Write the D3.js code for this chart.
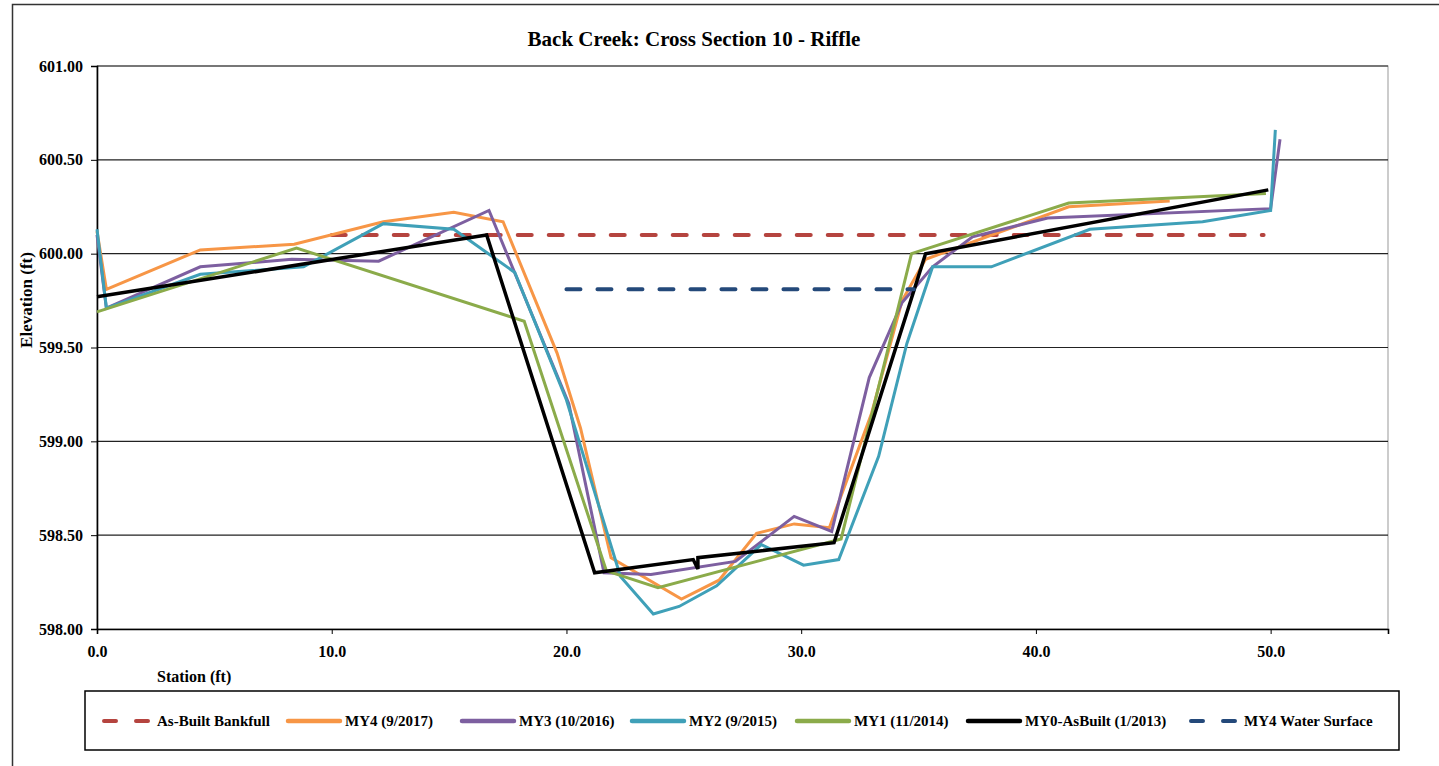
<!DOCTYPE html>
<html>
<head>
<meta charset="utf-8">
<script src="https://cdn.jsdelivr.net/npm/d3@7"></script>
<style>
  body { margin: 0; background: #fff; }
  svg text { font-family: "Liberation Serif", "Tinos", "DejaVu Serif", serif !important; font-weight: bold; }
</style>
</head>
<body>
<script>
// station (ft) / elevation (ft)
const bankfullSt = [10.0, 49.7];
const bankfullEl = [600.10, 600.10];

const my4St = [0.0, 0.4, 4.4, 8.4, 12.2, 15.2, 17.3, 19.6, 20.6, 21.9, 24.9, 26.5, 28.1, 29.7, 31.2, 33.0, 34.3, 35.3, 41.4, 45.7];
const my4El = [600.12, 599.81, 600.02, 600.05, 600.17, 600.22, 600.17, 599.47, 599.07, 598.38, 598.16, 598.26, 598.51, 598.56, 598.54, 599.15, 599.75, 599.97, 600.25, 600.28];

const my3St = [0.0, 0.4, 4.4, 8.3, 12.0, 16.7, 20.1, 21.6, 23.6, 27.2, 29.7, 31.3, 32.9, 34.3, 35.6, 37.3, 40.5, 50.0, 50.4];
const my3El = [600.10, 599.71, 599.93, 599.97, 599.96, 600.23, 599.20, 598.30, 598.29, 598.36, 598.60, 598.52, 599.34, 599.74, 599.93, 600.09, 600.19, 600.24, 600.61];

const my2St = [0.0, 0.4, 4.4, 8.8, 12.2, 15.2, 17.8, 20.0, 22.3, 23.7, 24.8, 26.4, 28.3, 30.1, 31.6, 33.3, 34.5, 35.6, 38.1, 42.3, 47.1, 50.0, 50.2];
const my2El = [600.13, 599.71, 599.89, 599.93, 600.16, 600.13, 599.90, 599.22, 598.28, 598.08, 598.12, 598.23, 598.45, 598.34, 598.37, 598.92, 599.52, 599.93, 599.93, 600.13, 600.17, 600.23, 600.66];

const my1St = [0.0, 8.5, 18.2, 21.7, 23.9, 31.7, 34.7, 41.4, 49.8];
const my1El = [599.69, 600.03, 599.64, 598.31, 598.22, 598.48, 600.00, 600.27, 600.32];

const my0St = [0.0, 16.6, 21.2, 25.4, 25.6, 25.6, 31.4, 35.3, 49.9];
const my0El = [599.77, 600.10, 598.30, 598.37, 598.32, 598.38, 598.46, 600.00, 600.34];

const waterSt = [20.0, 34.8];
const waterEl = [599.81, 599.81];

const seriesNames = ["As-Built Bankfull", "MY4  (9/2017)", "MY3  (10/2016)", "MY2  (9/2015)", "MY1  (11/2014)", "MY0-AsBuilt (1/2013)", "MY4 Water Surface"];
const seriesColors = ["#B5443F", "#F79646", "#7D5FA0", "#3FA0B8", "#8BAB4A", "#000000", "#24497A"];
const xTicks = [0, 10, 20, 30, 40, 50];
const yTicks = [598.0, 598.5, 599.0, 599.5, 600.0, 600.5, 601.0];

const series = [
  { st: bankfullSt, el: bankfullEl, dash: true, w: 4 },
  { st: my4St, el: my4El, dash: false, w: 3 },
  { st: my3St, el: my3El, dash: false, w: 3 },
  { st: my2St, el: my2El, dash: false, w: 3 },
  { st: my1St, el: my1El, dash: false, w: 3 },
  { st: my0St, el: my0El, dash: false, w: 3.5 },
  { st: waterSt, el: waterEl, dash: true, w: 4 }
];

const width = 1439, height = 766;
const plot = { left: 97, right: 1388, top: 66, bottom: 629 };
const serif = "'Liberation Serif', Tinos, 'DejaVu Serif', serif";

const svg = d3.select("body").append("svg")
  .attr("width", width)
  .attr("height", height)
  .attr("font-family", serif);

svg.append("rect").attr("width", width).attr("height", height).attr("fill", "#fff");

// outer chart border
svg.append("rect")
  .attr("x", 12.5).attr("y", 4.5)
  .attr("width", width + 20).attr("height", height + 20)
  .attr("fill", "none").attr("stroke", "#333").attr("stroke-width", 1.5);

const x = d3.scaleLinear().domain([0, 55]).range([plot.left, plot.right]);
const y = d3.scaleLinear().domain([598, 601]).range([plot.bottom, plot.top]);

// plot area frame
svg.append("rect")
  .attr("x", plot.left).attr("y", plot.top)
  .attr("width", plot.right - plot.left).attr("height", plot.bottom - plot.top)
  .attr("fill", "none").attr("stroke", "#999").attr("stroke-width", 1);

// horizontal gridlines
svg.append("g")
  .selectAll("line")
  .data(yTicks.filter(d => d > 598))
  .enter()
  .append("line")
  .attr("x1", plot.left).attr("x2", plot.right)
  .attr("y1", d => y(d)).attr("y2", d => y(d))
  .attr("stroke", "#222").attr("stroke-width", 1.2);

const xAxis = svg.append("g")
  .attr("transform", "translate(0," + plot.bottom + ")")
  .call(d3.axisBottom(x).tickValues(xTicks).tickFormat(d3.format(".1f")).tickSize(5).tickPadding(12))
  .attr("font-family", serif);
xAxis.select(".domain").attr("stroke", "#000").attr("stroke-width", 1.6);
xAxis.selectAll("text").style("font-size", "16px").style("font-family", serif).attr("fill", "#000");

const yAxis = svg.append("g")
  .attr("transform", "translate(" + plot.left + ",0)")
  .call(d3.axisLeft(y).tickValues(yTicks).tickFormat(d3.format(".2f")).tickSize(6).tickPadding(8))
  .attr("font-family", serif);
yAxis.select(".domain").attr("stroke", "#000").attr("stroke-width", 1.6);
yAxis.selectAll("text").style("font-size", "16px").style("font-family", serif).attr("fill", "#000");

const line = d3.line()
  .x(d => x(d[0]))
  .y(d => y(d[1]));

series.forEach((s, i) => {
  svg.append("path")
    .datum(s.st.map((v, j) => [v, s.el[j]]))
    .attr("d", line)
    .attr("fill", "none")
    .attr("stroke", seriesColors[i])
    .attr("stroke-width", s.w)
    .attr("stroke-linejoin", "miter")
    .attr("stroke-linecap", s.dash ? "round" : "butt")
    .attr("stroke-dasharray", s.dash ? "14,17" : null);
});

svg.append("text")
  .attr("x", 694).attr("y", 46)
  .attr("text-anchor", "middle")
  .style("font-size", "21px")
  .style("font-family", serif)
  .text("Back Creek: Cross Section 10 - Riffle");

svg.append("text")
  .attr("transform", "translate(32,300) rotate(-90)")
  .attr("text-anchor", "middle")
  .style("font-size", "17px")
  .style("font-family", serif)
  .text("Elevation (ft)");

svg.append("text")
  .attr("x", 157).attr("y", 682)
  .style("font-size", "16px")
  .style("font-family", serif)
  .text("Station (ft)");

// legend
const legendX = [100, 288, 462, 632, 797, 968, 1187];
svg.append("rect")
  .attr("x", 85).attr("y", 691)
  .attr("width", 1314).attr("height", 59)
  .attr("fill", "#fff").attr("stroke", "#000").attr("stroke-width", 1.5);

const legend = svg.selectAll(".legend")
  .data(seriesNames)
  .enter()
  .append("g")
  .attr("class", "legend")
  .attr("transform", (d, i) => "translate(" + legendX[i] + ",721)");

legend.append("line")
  .attr("x1", (d, i) => series[i].dash ? 4 : 0)
  .attr("x2", (d, i) => series[i].dash ? 48 : 52)
  .attr("stroke", (d, i) => seriesColors[i])
  .attr("stroke-width", (d, i) => series[i].dash ? 4 : 4.5)
  .attr("stroke-linecap", "round")
  .attr("stroke-dasharray", (d, i) => series[i].dash ? "12,20" : null);

legend.append("text")
  .attr("x", 57)
  .attr("dy", "0.35em")
  .style("font-size", "15px")
  .style("font-family", serif)
  .text(d => d);
</script>
</body>
</html>
